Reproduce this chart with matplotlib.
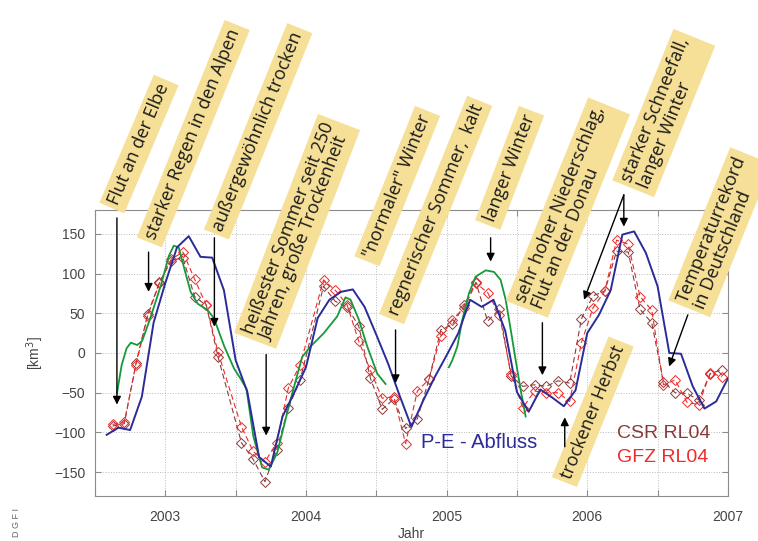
import numpy as np
import matplotlib
matplotlib.use('Agg')
import matplotlib.pyplot as plt

# P-E - Abfluss (monthly, km^3)
t_pe = 2002 + 7/12 + np.arange(54)/12
pe = [-103, -94, -97, -55, 38, 88, 133, 147, 121, 120, 79, -9,
      -49, -131, -143, -80, -50, -18, 44, 67, 77, 80, 58, 23,
      -13, -54, -93, -60, -30, -3, 25, 67, 58, 67, 28, -49,
      -74, -46, -56, -67, -47, 25, 48, 79, 149, 153, 126, 84,
      0, -1, -42, -70, -61, -32]

# green model curve (two pieces)
t_g1 = [2002.656, 2002.690, 2002.725, 2002.755, 2002.800, 2002.835, 2002.890,
        2002.970, 2003.025, 2003.060, 2003.095, 2003.140, 2003.180, 2003.230,
        2003.300, 2003.345, 2003.420, 2003.490, 2003.534, 2003.577, 2003.626,
        2003.688, 2003.735, 2003.795, 2003.890, 2003.973, 2004.032, 2004.127,
        2004.222, 2004.281, 2004.317, 2004.376, 2004.436, 2004.507, 2004.566]
g1 = [-51, -15, 6, 13, 10, 15, 42, 86, 122, 135, 133, 103, 77, 62, 54, 44, 8,
      -20, -32, -45, -105, -144, -147, -126, -59, -5, 8, 25, 46, 70, 67, 42, 8,
      -26, -39]
t_g2 = [2005.016, 2005.041, 2005.076, 2005.112, 2005.159, 2005.206, 2005.278,
        2005.337, 2005.384, 2005.420, 2005.456, 2005.491, 2005.527, 2005.562]
g2 = [-18, -9, 8, 42, 75, 96, 104, 102, 92, 67, 29, -9, -47, -80]

# GRACE months (year, month), Jun 2003 and Jan 2004 missing
months = [(2002, 8), (2002, 9), (2002, 10), (2002, 11), (2002, 12),
          (2003, 1), (2003, 2), (2003, 3), (2003, 4), (2003, 5), (2003, 7),
          (2003, 8), (2003, 9), (2003, 10), (2003, 11), (2003, 12),
          (2004, 2), (2004, 3), (2004, 4), (2004, 5), (2004, 6), (2004, 7),
          (2004, 8), (2004, 9), (2004, 10), (2004, 11), (2004, 12),
          (2005, 1), (2005, 2), (2005, 3), (2005, 4), (2005, 5), (2005, 6),
          (2005, 7), (2005, 8), (2005, 9), (2005, 10), (2005, 11), (2005, 12),
          (2006, 1), (2006, 2), (2006, 3), (2006, 4), (2006, 5), (2006, 6),
          (2006, 7), (2006, 8), (2006, 9), (2006, 10), (2006, 11), (2006, 12)]
csr = [-92, -89, -13, 49, 89, 116, 120, 71, 60, -5, -113,
       -134, -162, -122, -69, -34,
       84, 65, 58, 34, -32, -71,
       -58, -95, -83, -33, 29,
       36, 60, 89, 40, 55, -29,
       -42, -40, -42, -35, -38, 43,
       72, 78, 128, 127, 55, 38,
       -36, -50, -51, -59, -26, -21]
gfz = [-90, -87, -15, 47, 88, 118, 127, 93, 60, 1, -93,
       -124, -137, -113, -44, -15,
       92, 79, 61, 15, -22, -57,
       -55, -114, -48, -33, 21,
       42, 57, 88, 76, 48, -26,
       -69, -48, -50, -50, -61, 13,
       57, 78, 142, 137, 71, 54,
       -40, -34, -62, -65, -25, -30]
t_gr = [y + (m - 0.5)/12 for y, m in months]

# annotations: text, box centre, rotation, arrows (tail, tip)
notes = [
    ("Flut an der Elbe", (2002.813, 263), 67,
     [((2002.656, 170), (2002.656, -65))]),
    ("starker Regen in den Alpen", (2003.199, 276), 68,
     [((2002.881, 127), (2002.881, 77))]),
    ("außergewöhnlich trocken", (2003.660, 279), 68,
     [((2003.349, 145), (2003.349, 33))]),
    ("heißester Sommer seit 250\nJahren, große Trockenheit", (2003.937, 153), 69,
     [((2003.717, -2), (2003.717, -104))]),
    ('"normaler" Winter', (2004.649, 210), 68, []),
    ("regnerischer Sommer,  kalt", (2004.922, 180), 68,
     [((2004.637, 29), (2004.637, -38))]),
    ("langer Winter", (2005.448, 233), 69,
     [((2005.313, 145), (2005.313, 115))]),
    ("sehr hoher Niederschlag,\nFlut an der Donau", (2005.863, 183), 68,
     [((2005.681, 38), (2005.681, -28))]),
    ("starker Schneefall,\nlanger Winter", (2006.544, 302), 68,
     [((2006.260, 199), (2006.260, 159)), ((2006.260, 199), (2005.977, 67))]),
    ("trockener Herbst", (2006.039, -74), 68,
     [((2005.840, -118), (2005.840, -81))]),
    ("Temperaturrekord\nin Deutschland", (2006.945, 152), 68,
     [((2006.715, 48), (2006.582, -17))]),
]

fig = plt.figure(figsize=(7.58, 5.41), dpi=100)
ax = fig.add_axes([0.1253, 0.0832, 0.835, 0.5287])

ax.plot(t_gr, csr, ls=(0, (5, 3)), lw=0.8, color='#8b3a3a', marker='D', ms=5,
        mfc='none', mec='#8b3a3a', mew=0.7, zorder=3)
ax.plot(t_gr, gfz, ls=(0, (5, 3)), lw=0.8, color='#ee2a2a', marker='D', ms=5,
        mfc='none', mec='#ee2a2a', mew=0.7, zorder=3)
ax.plot(t_g1, g1, color='#159a3a', lw=1.3, zorder=4)
ax.plot(t_g2, g2, color='#159a3a', lw=1.3, zorder=4)
ax.plot(t_pe, pe, color='#2b2b99', lw=1.4, zorder=5)

ax.set_xlim(2002.5, 2007)
ax.set_ylim(-180, 180)
ax.set_xticks(np.arange(2002.5, 2007.01, 0.5))
ax.set_xticklabels(['' if x % 1 else str(int(x)) for x in np.arange(2002.5, 2007.01, 0.5)])
ax.set_yticks(np.arange(-150, 151, 50))
ax.grid(True, ls=':', color='#bbbbbb', lw=0.7)
for s in ax.spines.values():
    s.set_color('#8c8c8c')
ax.tick_params(direction='in', top=True, right=True, length=4, color='#8c8c8c',
               labelcolor='#444444', labelsize=10)
ax.tick_params(axis='x', pad=10)
ax.tick_params(axis='y', pad=7)
for lab in ax.get_xticklabels() + ax.get_yticklabels():
    lab.set_family('Liberation Sans')
ax.set_xlabel('Jahr', fontsize=10, color='#444444', family='Liberation Sans', labelpad=2)
ax.set_ylabel(r'[km$^3$]', fontsize=10, color='#444444', family='Liberation Sans', labelpad=6)

ax.text(2004.815, -113, 'P-E - Abfluss', color='#2b2b99', fontsize=14.5,
        family='Liberation Sans', va='center', ha='left', zorder=6)
ax.text(2006.21, -101, 'CSR RL04', color='#8b3a3a', fontsize=14,
        family='Liberation Sans', va='center', ha='left', zorder=6)
ax.text(2006.21, -131, 'GFZ RL04', color='#ee2a2a', fontsize=14,
        family='Liberation Sans', va='center', ha='left', zorder=6)

for txt, (bx, by), rot, arrows in notes:
    ax.text(bx, by, txt, rotation=rot, rotation_mode='anchor', ha='center', va='center',
            multialignment='left', fontsize=13, family='Open Sans', color='#1a1a1a',
            linespacing=1.0, clip_on=False, zorder=8,
            bbox=dict(boxstyle='square,pad=0.25', fc='#f6df96', ec='none'))
    for tail, tip in arrows:
        ax.annotate('', xy=tip, xytext=tail, annotation_clip=False, zorder=9,
                    arrowprops=dict(arrowstyle='-|>', color='black', lw=1,
                                    mutation_scale=12, shrinkA=0, shrinkB=0))

fig.text(0.022, 0.008, 'D G F I', rotation=90, fontsize=6.5, color='#666666',
         family='Liberation Sans', ha='center', va='bottom')

fig.savefig('out.png', dpi=100)
